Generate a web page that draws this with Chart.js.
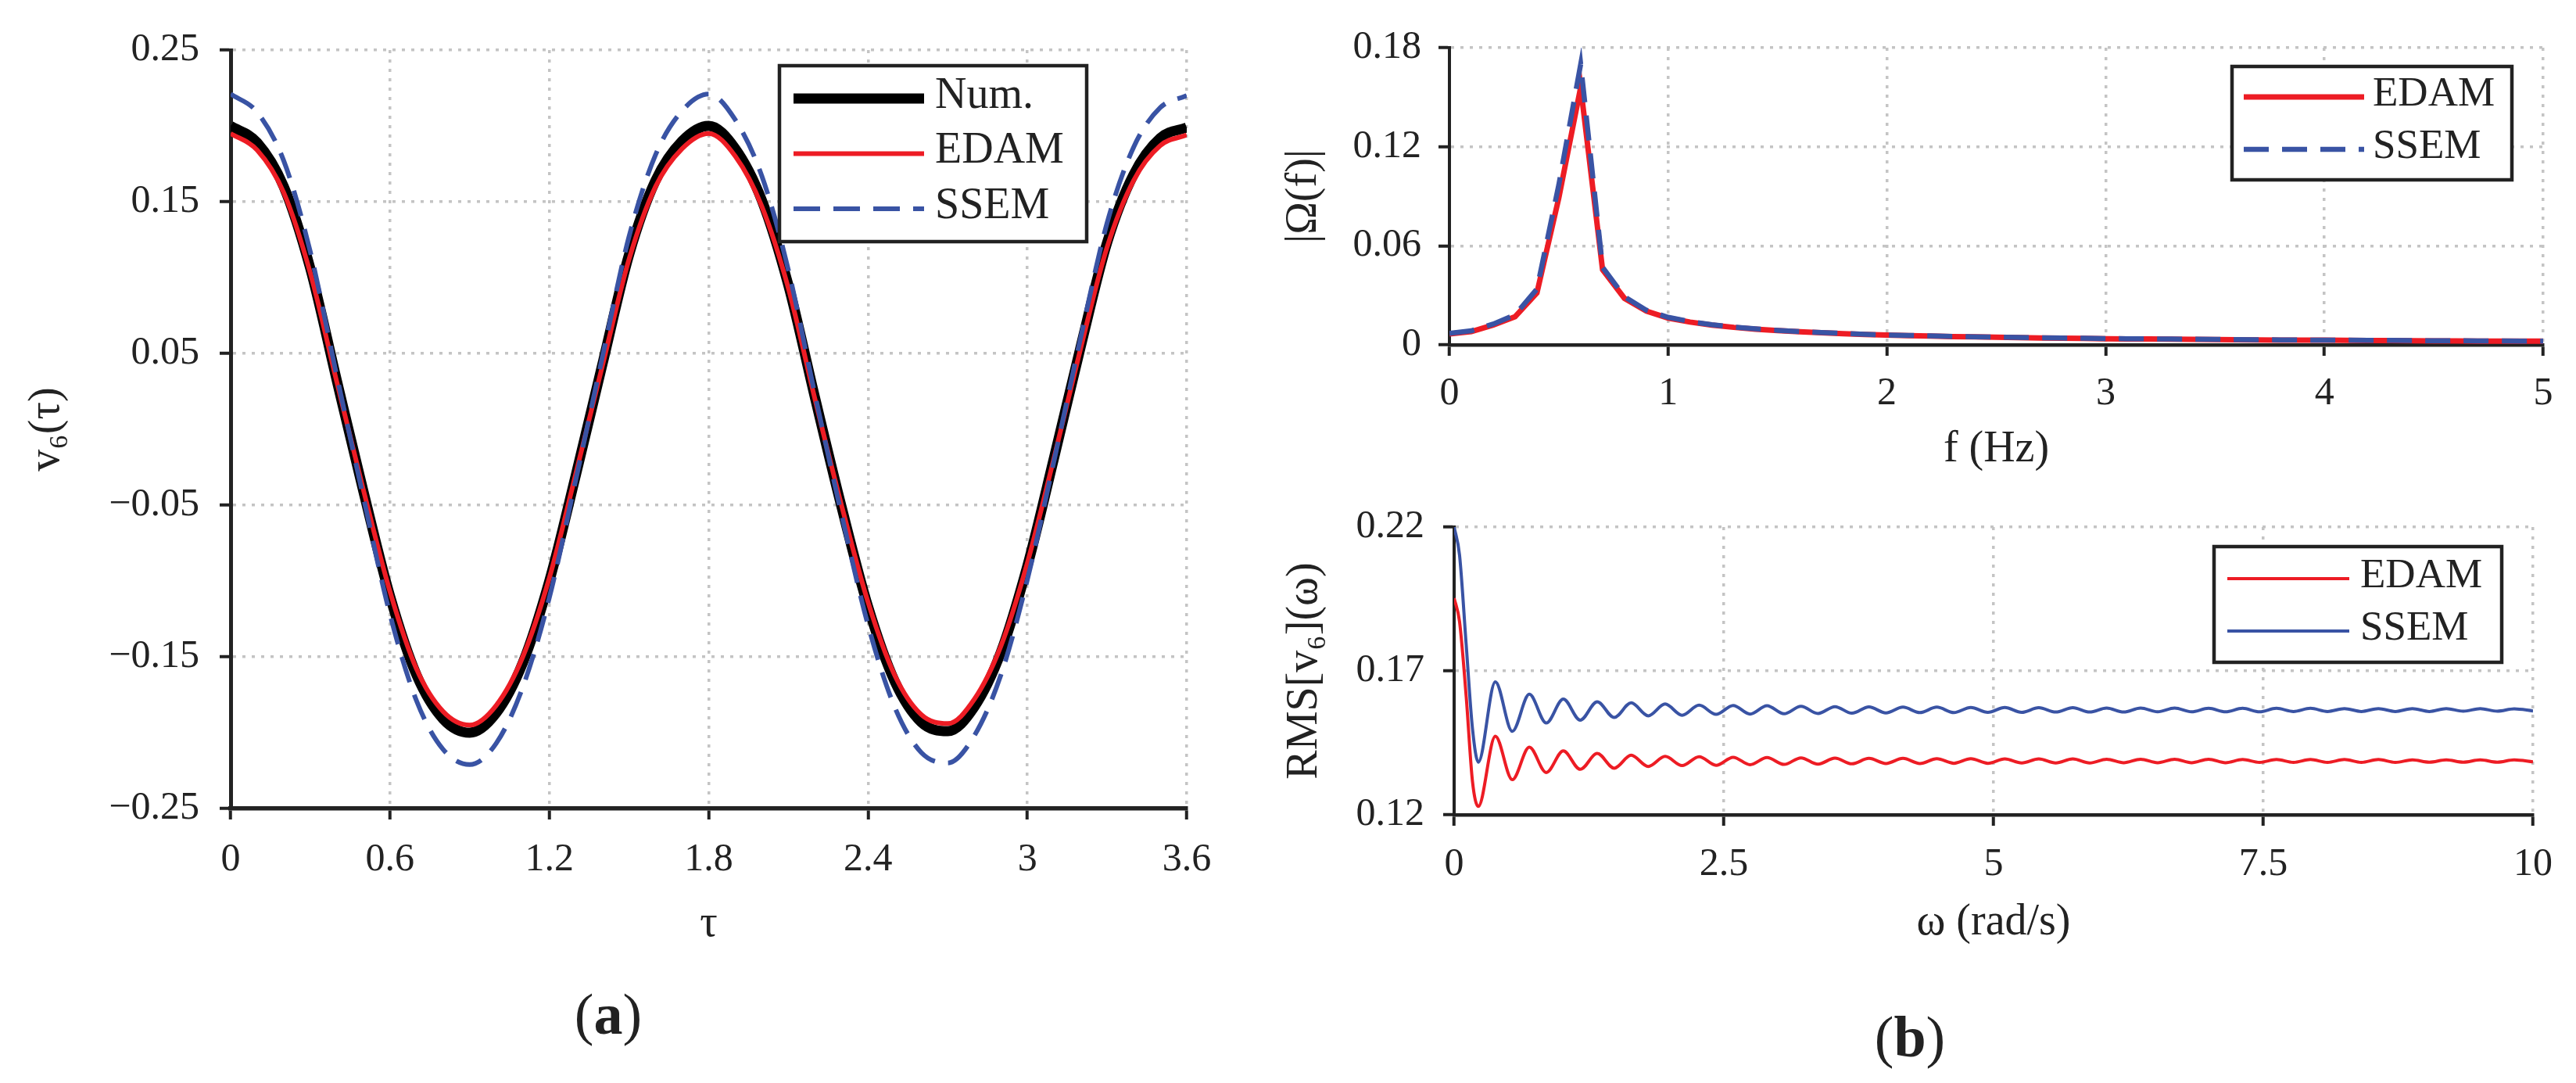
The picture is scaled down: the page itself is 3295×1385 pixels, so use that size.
<!DOCTYPE html>
<html>
<head>
<meta charset="utf-8">
<script src="https://cdn.jsdelivr.net/npm/chart.js@4.4.1/dist/chart.umd.min.js"></script>
<style>
  html, body { margin: 0; padding: 0; background: #fff; }
  body { width: 3295px; height: 1385px; position: relative; overflow: hidden; font-family: "Liberation Serif", serif; color: #222; }
  canvas { position: absolute; }
  .panel { position: absolute; transform: translate(-50%, -50%); font-size: 74px; white-space: nowrap; }
</style>
</head>
<body>
<canvas id="wave" width="1600" height="1230" style="left:0px;top:0px"></canvas>
<canvas id="spectrum" width="1695" height="610" style="left:1600px;top:0px"></canvas>
<canvas id="rms" width="1695" height="595" style="left:1600px;top:620px"></canvas>
<div class="panel" style="left:778px;top:1297px">(<b>a</b>)</div>
<div class="panel" style="left:2443px;top:1326px">(<b>b</b>)</div>
<script>
// (a) time history of v6
const waveTau = [0, 0.1, 0.2, 0.3, 0.4, 0.5, 0.6, 0.7, 0.8, 0.9, 1.0, 1.1, 1.2, 1.3, 1.4, 1.5, 1.6, 1.7, 1.8,
  1.9, 2.0, 2.1, 2.2, 2.3, 2.4, 2.5, 2.6, 2.7, 2.8, 2.9, 3.0, 3.1, 3.2, 3.3, 3.4, 3.5, 3.6];
const waveNum = [0.200, 0.189, 0.160, 0.106, 0.032, -0.041, -0.110, -0.162, -0.191, -0.200, -0.187, -0.154, -0.100,
  -0.030, 0.043, 0.115, 0.164, 0.190, 0.200, 0.185, 0.151, 0.095, 0.021, -0.051, -0.117, -0.166, -0.193, -0.199,
  -0.183, -0.147, -0.090, -0.019, 0.054, 0.123, 0.168, 0.192, 0.199];
const waveEdam = [0.195, 0.184, 0.156, 0.103, 0.031, -0.040, -0.107, -0.158, -0.186, -0.195, -0.182, -0.150, -0.098,
  -0.029, 0.042, 0.112, 0.160, 0.185, 0.195, 0.180, 0.147, 0.093, 0.020, -0.050, -0.114, -0.162, -0.188, -0.194,
  -0.178, -0.143, -0.088, -0.019, 0.053, 0.120, 0.164, 0.187, 0.194];
const waveSsem = [0.221, 0.209, 0.177, 0.117, 0.035, -0.045, -0.122, -0.179, -0.211, -0.221, -0.207, -0.170, -0.111,
  -0.033, 0.048, 0.127, 0.181, 0.210, 0.221, 0.204, 0.167, 0.105, 0.023, -0.056, -0.129, -0.183, -0.213, -0.220,
  -0.202, -0.162, -0.099, -0.021, 0.060, 0.136, 0.186, 0.212, 0.220];
const waveXTicks = [0, 0.6, 1.2, 1.8, 2.4, 3, 3.6];
const waveXLabels = ['0', '0.6', '1.2', '1.8', '2.4', '3', '3.6'];
const waveYTicks = [-0.25, -0.15, -0.05, 0.05, 0.15, 0.25];
const waveYLabels = ['\u22120.25', '\u22120.15', '\u22120.05', '0.05', '0.15', '0.25'];

// (b) top: amplitude spectrum
const specFreq = [0, 0.1, 0.2, 0.3, 0.4, 0.5, 0.6, 0.7, 0.8, 0.9, 1.0, 1.1, 1.2, 1.3, 1.4, 1.5, 1.6, 1.7, 1.8, 1.9,
  2.0, 2.1, 2.2, 2.3, 2.4, 2.5, 2.6, 2.7, 2.8, 2.9, 3.0, 3.1, 3.2, 3.3, 3.4, 3.5, 3.6, 3.7, 3.8, 3.9,
  4.0, 4.1, 4.2, 4.3, 4.4, 4.5, 4.6, 4.7, 4.8, 4.9, 5.0];
const specEdam = [0.0066, 0.0080, 0.0120, 0.0170, 0.0315, 0.0890, 0.1560, 0.0455, 0.0282, 0.0205, 0.0162, 0.0138,
  0.0120, 0.0106, 0.0095, 0.0086, 0.0079, 0.0073, 0.0068, 0.0063, 0.0059, 0.0056, 0.0053, 0.0050, 0.0048, 0.0046,
  0.0044, 0.0042, 0.0040, 0.0039, 0.0037, 0.0036, 0.0035, 0.0034, 0.0033, 0.0032, 0.0031, 0.0030, 0.0029, 0.0028,
  0.0028, 0.0027, 0.0026, 0.0026, 0.0025, 0.0024, 0.0024, 0.0023, 0.0023, 0.0022, 0.0022];
const specSsem = [0.0070, 0.0085, 0.0126, 0.0182, 0.0338, 0.0970, 0.1700, 0.0470, 0.0292, 0.0210, 0.0167, 0.0141,
  0.0122, 0.0108, 0.0097, 0.0088, 0.0081, 0.0075, 0.0069, 0.0064, 0.0060, 0.0057, 0.0054, 0.0051, 0.0049, 0.0047,
  0.0045, 0.0043, 0.0041, 0.0040, 0.0038, 0.0037, 0.0036, 0.0035, 0.0034, 0.0033, 0.0032, 0.0031, 0.0030, 0.0029,
  0.0029, 0.0028, 0.0027, 0.0027, 0.0026, 0.0025, 0.0025, 0.0024, 0.0024, 0.0023, 0.0023];
const specXTicks = [0, 1, 2, 3, 4, 5];
const specXLabels = ['0', '1', '2', '3', '4', '5'];
const specYTicks = [0, 0.06, 0.12, 0.18];
const specYLabels = ['0', '0.06', '0.12', '0.18'];

// (b) bottom: RMS against omega (start, then successive troughs / peaks)
const rmsOmega = [0, 0.05, 0.112, 0.17, 0.224,
  0.382, 0.539, 0.697, 0.854, 1.012, 1.169, 1.326, 1.484, 1.641, 1.799, 1.956, 2.113, 2.271, 2.428, 2.586, 2.743,
  2.900, 3.058, 3.215, 3.373, 3.530, 3.687, 3.845, 4.002, 4.160, 4.317, 4.474, 4.632, 4.789, 4.947, 5.104, 5.261,
  5.419, 5.576, 5.734, 5.891, 6.048, 6.206, 6.363, 6.521, 6.678, 6.835, 6.993, 7.150, 7.308, 7.465, 7.622, 7.780,
  7.937, 8.095, 8.252, 8.409, 8.567, 8.724, 8.882, 9.039, 9.196, 9.354, 9.511, 9.669, 9.826, 10];
const rmsEdam = [0.1953, 0.1872, 0.1610, 0.1316, 0.1229,
  0.1473, 0.1322, 0.1435, 0.1347, 0.1422, 0.1358, 0.1413, 0.1362, 0.1407, 0.1368, 0.1403, 0.1371, 0.1402, 0.1372,
  0.1400, 0.1374, 0.1399, 0.1375, 0.1398, 0.1376, 0.1397, 0.1377, 0.1396, 0.1378, 0.1396, 0.1378, 0.1395, 0.1379,
  0.1395, 0.1379, 0.1394, 0.1380, 0.1394, 0.1380, 0.1394, 0.1380, 0.1393, 0.1381, 0.1393, 0.1381, 0.1393, 0.1381,
  0.1393, 0.1381, 0.1392, 0.1382, 0.1392, 0.1382, 0.1392, 0.1382, 0.1392, 0.1382, 0.1392, 0.1382, 0.1391, 0.1383,
  0.1391, 0.1383, 0.1391, 0.1383, 0.1391, 0.1384];
const rmsSsem = [0.2200, 0.2103, 0.1790, 0.1500, 0.1383,
  0.1662, 0.1490, 0.1619, 0.1519, 0.1602, 0.1529, 0.1593, 0.1538, 0.1589, 0.1544, 0.1585, 0.1546, 0.1581, 0.1549,
  0.1580, 0.1550, 0.1579, 0.1551, 0.1577, 0.1552, 0.1576, 0.1553, 0.1575, 0.1554, 0.1574, 0.1555, 0.1574, 0.1555,
  0.1573, 0.1556, 0.1573, 0.1556, 0.1572, 0.1557, 0.1572, 0.1557, 0.1571, 0.1557, 0.1571, 0.1558, 0.1571, 0.1558,
  0.1570, 0.1558, 0.1570, 0.1558, 0.1570, 0.1559, 0.1570, 0.1559, 0.1569, 0.1559, 0.1569, 0.1559, 0.1569, 0.1559,
  0.1569, 0.1560, 0.1569, 0.1560, 0.1568, 0.1561];
const rmsXTicks = [0, 2.5, 5, 7.5, 10];
const rmsXLabels = ['0', '2.5', '5', '7.5', '10'];
const rmsYTicks = [0.12, 0.17, 0.22];
const rmsYLabels = ['0.12', '0.17', '0.22'];

const ink = '#222';
const red = '#ED1C24';
const blue = '#3953A4';
const gridGray = '#c4c4c4';
const serif = '"Liberation Serif", "DejaVu Serif", serif';

// framed legend inside the plot area, top right
const boxedLegend = {
  id: 'boxedLegend',
  afterDraw(chart, args, o) {
    const { ctx, chartArea } = chart;
    const left = chartArea.right - o.right - o.width;
    const top = chartArea.top + o.top;
    ctx.save();
    ctx.fillStyle = '#fff';
    ctx.fillRect(left, top, o.width, o.height);
    ctx.lineWidth = 4.5;
    ctx.strokeStyle = ink;
    ctx.strokeRect(left, top, o.width, o.height);
    chart.data.datasets.forEach((ds, i) => {
      const y = top + o.firstRow + i * o.rowGap;
      ctx.beginPath();
      ctx.setLineDash(ds.borderDash || []);
      ctx.lineWidth = ds.borderWidth;
      ctx.strokeStyle = ds.borderColor;
      ctx.moveTo(left + o.lineLeft, y);
      ctx.lineTo(left + o.lineLeft + o.lineLen, y);
      ctx.stroke();
      ctx.setLineDash([]);
      ctx.fillStyle = ink;
      ctx.font = o.fontSize + 'px ' + serif;
      ctx.textBaseline = 'middle';
      ctx.fillText(ds.label, left + o.textLeft, y - 3);
    });
    ctx.restore();
  }
};

function series(label, xs, ys, style) {
  return Object.assign({
    label: label,
    data: xs.map((x, i) => ({ x: x, y: ys[i] })),
    pointRadius: 0,
    fill: false
  }, style);
}

function axis(a) {
  return {
    type: 'linear',
    min: a.ticks[0],
    max: a.ticks[a.ticks.length - 1],
    afterBuildTicks: s => { s.ticks = a.ticks.map(v => ({ value: v })); },
    afterFit: s => { if (s.isHorizontal()) s.height = a.size; else s.width = a.size; },
    ticks: {
      autoSkip: false, maxRotation: 0, minRotation: 0, padding: a.pad, color: ink,
      font: { family: serif, size: 50 },
      callback: (v, i) => a.labels[i]
    },
    grid: {
      color: gridGray, lineWidth: 3.5, tickColor: ink, tickWidth: 4, tickLength: 14, tickBorderDash: []
    },
    border: { display: true, color: ink, width: a.axisWidth, dash: [4, 8] },
    title: { display: true, text: a.title, color: ink, font: { family: serif, size: 56 }, padding: a.titlePad }
  };
}

function makeChart(id, datasets, opts) {
  return new Chart(document.getElementById(id), {
    type: 'line',
    data: { datasets: datasets },
    plugins: [boxedLegend],
    options: {
      responsive: false,
      devicePixelRatio: 1,
      animation: false,
      events: [],
      layout: { padding: opts.padding },
      plugins: { legend: { display: false }, tooltip: { enabled: false }, boxedLegend: opts.legend },
      scales: { x: axis(opts.x), y: axis(opts.y) }
    }
  });
}

makeChart('wave', [
  series('Num.', waveTau, waveNum, { borderColor: '#000', borderWidth: 13, cubicInterpolationMode: 'monotone', order: 3 }),
  series('EDAM', waveTau, waveEdam, { borderColor: red, borderWidth: 6, cubicInterpolationMode: 'monotone', order: 2 }),
  series('SSEM', waveTau, waveSsem, { borderColor: blue, borderWidth: 6, borderDash: [34, 17], cubicInterpolationMode: 'monotone', order: 1 })
], {
  padding: { top: 64, right: 82, bottom: 0, left: 0 },
  legend: { right: 128, top: 20, width: 393, height: 225, firstRow: 42, rowGap: 70.5, lineLeft: 18, lineLen: 167, textLeft: 199, fontSize: 56 },
  x: { ticks: waveXTicks, labels: waveXLabels, size: 196, pad: 22, axisWidth: 5.5, title: '\u03c4', titlePad: { top: 0, bottom: 14 } },
  y: { ticks: waveYTicks, labels: waveYLabels, size: 295, pad: 26, axisWidth: 5, title: 'v\u2086(\u03c4)', titlePad: { top: 27, bottom: 0 } }
});

makeChart('spectrum', [
  series('EDAM', specFreq, specEdam, { borderColor: red, borderWidth: 7, tension: 0, order: 2 }),
  series('SSEM', specFreq, specSsem, { borderColor: blue, borderWidth: 6.5, borderDash: [32, 17], tension: 0, order: 1 })
], {
  padding: { top: 61, right: 42, bottom: 0, left: 0 },
  legend: { right: 40, top: 24, width: 358, height: 145, firstRow: 39, rowGap: 67, lineLeft: 15, lineLen: 154, textLeft: 180, fontSize: 53 },
  x: { ticks: specXTicks, labels: specXLabels, size: 169, pad: 19, axisWidth: 4.5, title: 'f (Hz)', titlePad: { top: 0, bottom: 1 } },
  y: { ticks: specYTicks, labels: specYLabels, size: 254, pad: 22, axisWidth: 4, title: '|\u03a9(f)|', titlePad: { top: 35, bottom: 0 } }
});

makeChart('rms', [
  series('EDAM', rmsOmega, rmsEdam, { borderColor: red, borderWidth: 4, cubicInterpolationMode: 'monotone' }),
  series('SSEM', rmsOmega, rmsSsem, { borderColor: blue, borderWidth: 4, cubicInterpolationMode: 'monotone' })
], {
  padding: { top: 32, right: 55, bottom: 0, left: 0 },
  legend: { right: 40, top: 25, width: 368, height: 148, firstRow: 41, rowGap: 67, lineLeft: 17, lineLen: 156, textLeft: 187, fontSize: 53 },
  x: { ticks: rmsXTicks, labels: rmsXLabels, size: 173, pad: 20, axisWidth: 4.5, title: '\u03c9 (rad/s)', titlePad: { top: 0, bottom: 1 } },
  y: { ticks: rmsYTicks, labels: rmsYLabels, size: 260, pad: 24, axisWidth: 4, title: 'RMS[v\u2086](\u03c9)', titlePad: { top: 36, bottom: 0 } }
});
</script>
</body>
</html>
